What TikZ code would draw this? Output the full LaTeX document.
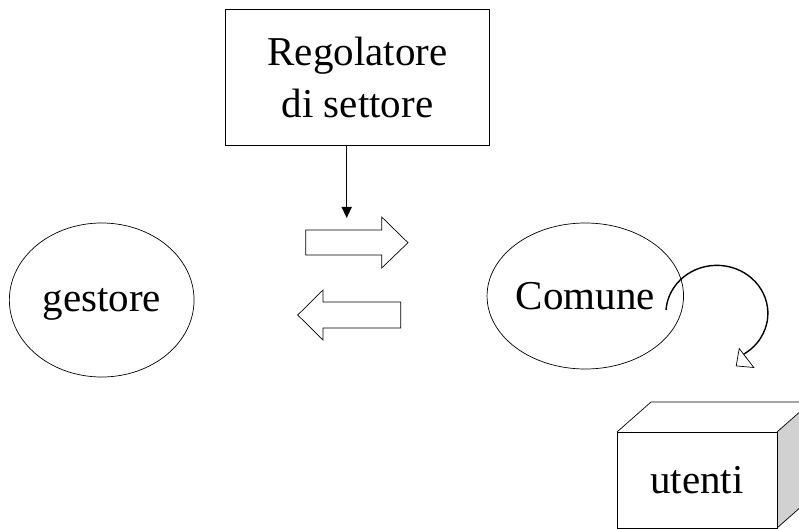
\documentclass[tikz,border=0pt]{standalone}
\usepackage{fontspec}
\setmainfont{Liberation Serif}
\usetikzlibrary{shapes.geometric,arrows.meta}
\begin{document}
\begin{tikzpicture}[x=1pt,y=-1pt,
  lbl/.style={font=\fontsize{41}{52}\selectfont},
  oval/.style={ellipse,draw=black,line width=0.7pt,inner sep=0pt,lbl},
  blockarrow/.style={draw=black,line width=0.7pt,fill=white,line join=miter},
  thin/.style={line width=0.7pt}]
\useasboundingbox (0,0) rectangle (799,529);
% regulator
\node[draw,thin,lbl,align=center,minimum width=263.6pt,minimum height=135.7pt,inner sep=0pt]
  (reg) at (357.5,77.2) {Regolatore\\di settore};
% ellipses
\node[oval,minimum width=184.7pt,minimum height=154pt,text depth=0pt] (gest) at (101.7,300) {gestore};
\node[oval,minimum width=192.7pt,minimum height=146pt] (com) at (585.3,296) {Comune};
% vertical arrow
\coordinate (regout) at (346.7,145);
\coordinate (regtip) at (346.7,218);
\draw[line width=1.5pt,-{Triangle[length=11pt,width=10pt]}] (regout) -- (regtip);
% block arrows
\draw[blockarrow] (305.7,230) -- (381.7,230) -- (381.7,217) -- (408,242.7) -- (381.7,268)
  -- (381.7,255) -- (305.7,255) -- cycle;
\draw[blockarrow] (400.7,302) -- (323,302) -- (323,290) -- (297.7,315) -- (323,340)
  -- (323,328) -- (400.7,328) -- cycle;
% cube
\fill[black!18] (777,432) -- (811,402) -- (811,498) -- (777,528) -- cycle;
\draw[thin,line join=miter] (617,432) -- (651,402) -- (811,402) -- (777,432);
\draw[thin,line join=miter] (811,402) -- (811,498) -- (777,528);
\node[draw,thin,lbl,minimum width=160pt,minimum height=96pt,inner sep=0pt] (ut) at (697,480) {utenti};
% curved arrow
\coordinate (cstart) at (666,310);
\coordinate (cbase) at (746.5,358);
\draw[line width=1.4pt] (cstart) arc[start angle=184,end angle=420,x radius=51,y radius=48] -- (cbase);
\draw[thin,fill=white,line join=miter] (739.2,348.5) -- (753.8,367.5) -- (736.2,365.9) -- cycle;
\end{tikzpicture}
\end{document}
